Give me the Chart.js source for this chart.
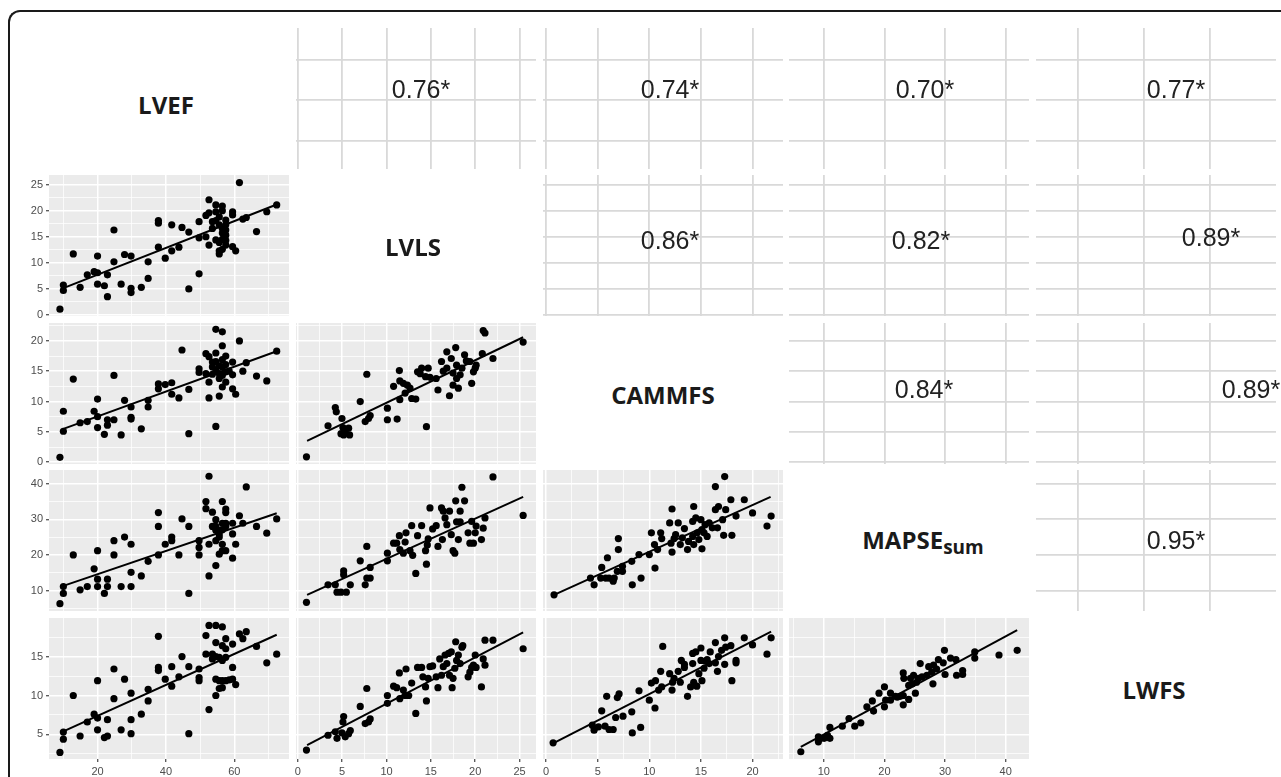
<!DOCTYPE html>
<html><head><meta charset="utf-8">
<script src="https://cdn.jsdelivr.net/npm/chart.js@4.4.1/dist/chart.umd.min.js"></script>
<style>
html,body{margin:0;padding:0;background:#fff;}
body{width:1281px;height:777px;overflow:hidden;position:relative;font-family:'Liberation Sans',Arial,sans-serif;}
.frame{position:absolute;left:8px;top:10px;width:1400px;height:900px;border-left:2px solid #1a1a1a;border-top:2px solid #1a1a1a;border-top-left-radius:12px;box-sizing:border-box;}
canvas{position:absolute;}
.diag{position:absolute;font-family:'Open Sans',sans-serif;font-weight:700;font-size:24px;line-height:24px;color:#1a1a1a;transform:translate(-50%,-50%);white-space:nowrap;}
.diag .sub{font-size:19px;position:relative;top:5px;}
.corr{position:absolute;font-family:'Liberation Sans',Arial,sans-serif;font-size:25px;line-height:25px;color:#222;transform:translate(-50%,-50%);white-space:nowrap;}
</style></head>
<body>
<div class="frame"></div>
<script>
// ---------------- DATA ----------------
const variables = ['LVEF', 'LVLS', 'CAMMFS', 'MAPSE', 'LWFS'];
const varLabels = ['LVEF', 'LVLS', 'CAMMFS', 'MAPSE<span class="sub">sum</span>', 'LWFS'];

// tick labels (major breaks)
const ticksLVEF = [20, 40, 60];
const ticksLVLS = [0, 5, 10, 15, 20, 25];
const ticksCAMMFS = [0, 5, 10, 15, 20];
const ticksMAPSE = [10, 20, 30, 40];
const ticksLWFS = [5, 10, 15];

// axis ranges
const rangeLVEF = [5.8, 76.0];
const rangeLVLS = [-0.2, 26.85];
const rangeCAMMFS = [-0.3, 22.95];
const rangeMAPSE = [4.25, 43.85];
const rangeLWFS = [1.85, 19.95];

// correlations (upper triangle, row-wise)
const corrLabels = ['0.76*', '0.74*', '0.70*', '0.77*', '0.86*', '0.82*', '0.89*', '0.84*', '0.89*', '0.95*'];

// scatter data (lower triangle) [x, y]
const lvefVsLvls = [[9,1.1],[10,5.75],[10,4.7],[12.9,11.7],[14.9,5.3],[17,7.7],[19,8.3],[20,8.1],[20,11.3],[20,5.9],[22,5.6],[22.9,3.5],[22.9,7.7],[24.8,16.3],[24.8,10.2],[26.9,5.9],[27.9,11.6],[29.8,11.3],[29.8,5.1],[29.8,4.3],[32.8,5.3],[34.8,7.0],[34.8,10.2],[37.8,13.0],[37.8,18.1],[37.8,17.6],[39.8,10.9],[41.7,17.3],[41.7,12.3],[43.8,13.0],[44.7,16.8],[46.7,15.9],[46.7,5.0],[49.7,17.9],[49.7,14.8],[49.7,7.9],[51.7,15.0],[51.7,19.1],[52.6,22.1],[52.6,19.6],[52.6,13.4],[53.6,17.9],[53.6,16.6],[54.6,21.1],[54.6,19.8],[54.6,18.1],[54.6,14.4],[55.6,13.9],[55.6,12.3],[55.6,11.7],[55.6,17.3],[55.6,18.8],[56.5,20.9],[56.5,20.0],[56.5,15.7],[56.5,14.5],[56.5,12.6],[56.5,16.6],[57.5,18.2],[57.5,17.3],[57.5,16.3],[57.5,15.3],[57.5,14.3],[57.5,13.4],[59.5,19.8],[59.5,19.2],[59.5,13.1],[60.4,12.3],[61.5,25.4],[62.5,18.4],[63.5,18.7],[66.5,16.0],[69.5,19.8],[72.4,21.1]];
const lvefVsCammfs = [[9,0.8],[10,8.4],[10,5.1],[12.9,13.7],[14.9,6.5],[17,6.7],[19,8.4],[20,7.5],[20,10.4],[20,5.7],[22,4.6],[22.9,6.1],[22.9,7.0],[24.8,14.3],[24.8,7.0],[26.9,4.5],[27.9,10.2],[29.8,9.1],[29.8,7.4],[29.8,7.1],[32.8,5.5],[34.8,10.2],[34.8,9.1],[37.8,12.9],[37.8,12.1],[39.8,12.8],[41.7,13.1],[41.7,11.2],[43.8,10.6],[44.7,18.5],[46.7,12.0],[46.7,4.7],[49.7,15.4],[49.7,14.8],[51.7,17.9],[51.7,14.6],[52.6,13.2],[52.6,10.6],[52.6,17.4],[53.6,15.7],[53.6,16.5],[54.6,21.9],[54.6,18.0],[54.6,15.2],[54.6,5.9],[55.6,10.9],[55.6,14.6],[55.6,13.8],[56.5,21.5],[56.5,19.2],[56.5,16.9],[56.5,15.7],[56.5,12.4],[57.5,17.5],[57.5,14.9],[57.5,13.2],[59.5,16.5],[59.5,14.4],[59.5,12.1],[60.4,11.2],[61.5,20.0],[62.5,15.0],[63.5,16.4],[66.5,14.2],[69.5,13.4],[72.4,18.3],[55.6,15.9],[56.5,14.3],[57.5,16.1],[58.5,15.0],[54.6,16.6],[53.6,14.5]];
const lvefVsMapse = [[9,6.3],[10,9.2],[10,11.1],[12.9,20.0],[14.9,10.2],[17,11.1],[19,16.1],[20,21.2],[20,13.2],[20,11.1],[22,9.2],[22.9,13.2],[22.9,11.1],[24.8,24.0],[24.8,20.0],[26.9,11.1],[27.9,25.0],[29.8,23.0],[29.8,15.1],[29.8,11.1],[32.8,14.1],[34.8,18.2],[37.8,31.9],[37.8,28.0],[37.8,20.0],[39.8,23.0],[41.7,25.0],[41.7,24.0],[43.8,20.0],[44.7,30.1],[46.7,28.0],[46.7,9.2],[49.7,24.0],[49.7,22.1],[49.7,20.0],[51.7,35.0],[51.7,33.0],[52.6,42.1],[52.6,23.0],[52.6,14.1],[53.6,32.0],[53.6,28.0],[54.6,29.9],[54.6,28.0],[54.6,26.9],[54.6,24.0],[54.6,17.0],[55.6,25.9],[55.6,25.0],[55.6,20.2],[55.6,26.9],[56.5,35.0],[56.5,28.9],[56.5,27.1],[56.5,23.0],[56.5,21.2],[57.5,32.9],[57.5,31.9],[57.5,28.9],[57.5,28.0],[57.5,21.2],[59.5,28.9],[59.5,25.9],[59.5,19.1],[60.4,23.0],[61.5,31.0],[62.5,28.9],[63.5,39.1],[66.5,28.0],[69.5,26.1],[72.4,30.1]];
const lvefVsLwfs = [[9,2.7],[10,5.3],[10,4.4],[12.9,10.0],[14.9,4.8],[17,6.6],[19,7.6],[20,7.1],[20,11.9],[20,5.6],[22,4.6],[22.9,6.9],[22.9,4.8],[24.8,13.4],[24.8,9.6],[26.9,5.6],[27.9,12.1],[29.8,10.3],[29.8,6.9],[29.8,5.1],[32.8,7.6],[34.8,10.8],[34.8,9.3],[37.8,17.6],[37.8,13.6],[37.8,13.2],[39.8,12.1],[41.7,13.7],[41.7,11.2],[43.8,12.4],[44.7,15.0],[46.7,13.7],[46.7,5.1],[49.7,13.4],[49.7,12.3],[49.7,11.9],[51.7,17.7],[51.7,15.3],[52.6,19.0],[52.6,8.2],[53.6,15.3],[53.6,14.7],[54.6,19.0],[54.6,16.8],[54.6,15.0],[54.6,12.1],[54.6,10.0],[55.6,14.9],[55.6,11.9],[55.6,10.9],[56.5,18.8],[56.5,16.4],[56.5,14.5],[56.5,11.9],[56.5,11.0],[57.5,17.3],[57.5,16.0],[57.5,14.9],[57.5,11.9],[58.5,12.0],[59.5,16.6],[59.5,13.6],[59.5,12.1],[60.4,11.4],[61.5,17.9],[62.5,17.3],[63.5,18.2],[66.5,16.3],[69.5,14.2],[72.4,15.3]];
const lvlsVsCammfs = [[0.98,0.89],[3.41,6.0],[4.23,9.0],[4.34,8.3],[4.98,7.2],[5.09,5.7],[4.87,4.7],[5.35,5.0],[5.73,5.6],[5.84,4.5],[5.17,4.5],[7.04,10.0],[7.78,14.5],[7.6,6.7],[8.16,7.7],[7.97,7.2],[10.1,8.9],[10.1,7.0],[11.2,7.1],[10.8,12.5],[11.45,15.1],[11.5,13.4],[11.5,10.3],[11.9,13.0],[12.1,11.4],[12.35,12.7],[12.65,12.2],[12.84,10.5],[13.3,10.4],[13.5,14.9],[13.96,15.5],[14.4,14.1],[14.5,5.85],[14.7,15.5],[14.9,14.0],[15.6,13.8],[15.8,11.9],[16.2,16.6],[16.4,15.0],[16.8,18.2],[17.1,10.95],[17.3,17.1],[17.5,12.7],[17.5,14.7],[17.8,18.9],[17.9,16.0],[18.1,12.2],[18.3,14.4],[18.5,15.5],[18.8,17.7],[19.0,16.7],[19.4,16.6],[19.6,13.0],[19.8,14.9],[20.1,16.0],[20.8,17.9],[20.9,21.7],[21.1,21.3],[22.0,17.1],[25.4,19.8],[13.8,14.6],[16.8,15.5],[17.9,13.8],[20.0,15.5]];
const lvlsVsMapse = [[0.98,6.7],[3.41,11.6],[4.23,11.6],[4.42,9.55],[4.87,9.55],[5.17,15.5],[5.17,14.4],[5.47,9.55],[5.92,11.6],[7.04,18.35],[7.6,11.6],[7.78,22.4],[7.78,13.5],[8.16,16.5],[8.16,13.5],[10.1,20.5],[10.1,18.35],[10.8,23.3],[11.15,23.3],[11.45,25.4],[11.5,21.5],[11.9,20.5],[12.2,26.2],[12.1,23.6],[12.65,21.2],[12.84,28.2],[12.95,19.9],[13.3,14.8],[13.5,25.4],[13.96,28.2],[14.4,21.2],[14.5,17.4],[14.6,22.8],[14.7,24.5],[14.9,33.2],[15.2,27.3],[15.6,28.2],[15.8,22.4],[16.2,33.2],[16.4,32.3],[16.6,30.4],[16.8,28.5],[16.3,24.3],[17.1,32.3],[17.3,25.7],[17.5,21.2],[17.7,20.5],[17.8,35.2],[17.9,29.3],[18.1,24.3],[18.3,32.3],[18.3,29.3],[18.5,39.0],[18.8,35.2],[19.2,26.2],[19.4,23.3],[19.6,29.4],[19.8,23.3],[20.0,26.2],[20.1,28.1],[20.7,24.3],[20.9,27.5],[21.1,30.4],[22.0,41.9],[25.4,31.1]];
const lvlsVsLwfs = [[0.98,3.0],[3.41,4.9],[4.23,5.35],[4.42,4.5],[4.98,5.2],[5.17,7.3],[5.09,6.6],[5.35,4.7],[5.73,5.1],[5.92,5.5],[7.04,8.6],[7.78,10.9],[7.6,6.4],[7.97,6.6],[8.16,7.0],[10.1,10.0],[10.1,9.0],[10.8,11.2],[11.15,11.0],[11.45,12.9],[11.5,9.6],[11.9,10.7],[12.1,10.0],[12.2,13.4],[12.5,10.0],[12.84,11.6],[13.3,7.7],[13.5,13.6],[13.96,13.6],[14.1,12.4],[14.4,11.1],[14.5,9.3],[14.7,12.2],[14.9,13.7],[15.2,13.8],[15.6,12.4],[15.8,11.0],[16.0,14.7],[16.2,12.6],[16.4,13.7],[16.6,15.2],[16.8,14.1],[17.0,15.4],[17.1,12.6],[17.3,15.6],[17.4,11.0],[17.5,12.2],[17.7,13.5],[17.8,16.9],[17.9,14.5],[18.1,15.2],[18.3,14.1],[18.5,16.2],[18.6,16.4],[19.2,12.4],[19.4,13.0],[19.6,13.6],[19.8,13.9],[20.0,15.2],[20.1,13.6],[20.7,11.1],[20.9,14.7],[21.1,13.9],[21.1,17.1],[22.0,17.1],[25.4,16.0]];
const cammfsVsMapse = [[0.77,8.8],[4.3,13.5],[4.65,11.6],[5.39,16.5],[5.29,13.5],[5.78,13.5],[5.94,19.2],[6.1,13.5],[6.5,12.6],[6.6,13.5],[6.9,15.4],[7.0,21.5],[7.0,24.6],[7.4,15.4],[7.4,16.8],[8.3,18.2],[8.35,11.6],[9.0,20.1],[9.2,13.5],[10.0,20.1],[10.2,26.2],[10.5,22.9],[10.55,16.3],[10.8,21.5],[11.1,26.2],[11.2,24.6],[11.97,29.0],[12.1,23.3],[12.2,20.8],[12.2,32.9],[12.4,24.6],[12.55,25.7],[12.8,29.0],[13.0,22.9],[13.2,24.8],[13.4,27.4],[13.7,21.5],[13.8,23.8],[14.2,25.2],[14.2,29.4],[14.3,33.6],[14.3,22.9],[14.5,30.4],[14.65,26.2],[14.8,24.3],[15.0,29.9],[15.1,21.7],[15.1,27.1],[15.3,26.2],[15.4,28.5],[15.6,25.2],[15.8,29.0],[16.1,27.6],[16.4,39.2],[16.4,32.7],[16.6,27.6],[16.7,33.6],[17.1,29.9],[17.2,25.5],[17.3,42.0],[17.4,32.7],[17.9,35.5],[18.0,25.5],[18.4,30.9],[19.2,35.5],[20.0,31.8],[21.4,28.1],[21.8,30.9]];
const cammfsVsLwfs = [[0.68,3.93],[4.48,6.19],[4.65,5.55],[5.07,5.98],[5.39,8.03],[5.71,6.06],[5.87,9.9],[6.1,5.64],[6.5,5.64],[6.74,7.18],[6.9,9.73],[7.07,10.2],[7.45,7.35],[8.3,7.9],[8.35,5.2],[9.0,10.6],[9.16,5.9],[10.0,9.4],[10.2,11.6],[10.55,8.4],[10.6,11.9],[10.9,10.7],[11.1,13.1],[11.2,11.1],[11.3,16.3],[11.97,12.8],[12.2,10.7],[12.25,11.7],[12.4,12.2],[12.8,13.1],[13.0,11.7],[13.1,14.5],[13.4,14.0],[13.4,13.6],[13.7,9.9],[14.0,11.1],[14.2,15.4],[14.2,14.1],[14.3,11.7],[14.5,15.6],[14.6,11.2],[14.8,12.8],[15.0,16.1],[15.0,14.5],[15.1,11.9],[15.3,13.5],[15.4,14.4],[15.6,14.6],[15.8,14.1],[15.9,15.6],[16.4,16.8],[16.4,14.2],[16.6,13.1],[16.7,15.0],[17.0,15.8],[17.3,14.0],[17.3,17.4],[17.4,16.2],[17.9,16.4],[18.0,11.9],[18.4,14.5],[18.4,14.2],[19.2,17.4],[20.0,16.5],[21.4,15.3],[21.8,17.4]];
const mapseVsLwfs = [[6.2,2.78],[9.1,4.7],[9.1,4.05],[9.5,4.5],[10.05,4.5],[10.6,4.9],[11.0,4.5],[11.0,5.9],[13.05,6.07],[14.15,7.05],[15.1,6.07],[16.1,6.5],[17.1,8.55],[18.0,9.3],[18.2,8.0],[19.1,10.3],[20.0,11.1],[20.0,8.55],[20.2,9.4],[21.0,9.4],[21.0,10.3],[21.8,9.9],[22.1,9.8],[22.6,9.9],[23.1,8.8],[23.1,10.0],[23.1,12.9],[23.2,12.2],[24.0,9.5],[24.0,11.3],[24.3,12.2],[24.6,11.5],[24.8,12.6],[25.1,10.3],[25.3,11.7],[25.6,12.2],[25.9,14.1],[26.2,12.4],[27.0,12.6],[27.3,13.7],[27.8,13.0],[28.0,11.5],[28.1,13.9],[28.6,13.4],[28.9,14.6],[29.7,14.2],[29.9,15.8],[30.0,12.7],[30.9,14.8],[31.8,14.6],[31.9,12.6],[32.9,13.2],[32.9,12.7],[34.9,15.6],[34.9,14.8],[38.9,15.2],[41.9,15.8]];

// fitted regression lines [start, end]
const fitLvefLvls = [[9.8,5.1],[72.4,21.2]];
const fitLvefCammfs = [[10,5.5],[72.4,18.3]];
const fitLvefMapse = [[10,11.3],[72.4,31.7]];
const fitLvefLwfs = [[10,5.4],[72.4,17.8]];
const fitLvlsCammfs = [[1.05,3.5],[25.4,20.6]];
const fitLvlsMapse = [[1.05,8.8],[25.4,36.3]];
const fitLvlsLwfs = [[1.05,3.63],[25.4,18.1]];
const fitCammfsMapse = [[0.77,8.8],[21.75,36.3]];
const fitCammfsLwfs = [[0.77,3.93],[21.8,18.2]];
const fitMapseLwfs = [[6.2,3.42],[41.9,18.4]];

// ---------------- LAYOUT ----------------
const colLeft = [49, 296, 543, 789, 1036];
const rowTop = [28, 175, 323, 470, 618];
const PW = 240, PH = 141, PAD = 8, YAXIS_W = 41, XAXIS_H = 22;
const diagPos = [[166,105],[413,247],[663,395],[923,541],[1154,690]];
const corrPos = [[421,89],[670,89],[925,89],[1176,89],[670,240],[921,240],[1211,237],[924,389],[1251,389],[1176,540]];

const tickMap = {LVEF: ticksLVEF, LVLS: ticksLVLS, CAMMFS: ticksCAMMFS, MAPSE: ticksMAPSE, LWFS: ticksLWFS};
const rangeMap = {LVEF: rangeLVEF, LVLS: rangeLVLS, CAMMFS: rangeCAMMFS, MAPSE: rangeMAPSE, LWFS: rangeLWFS};
const lowerData = {
  '1_0': [lvefVsLvls, fitLvefLvls], '2_0': [lvefVsCammfs, fitLvefCammfs], '3_0': [lvefVsMapse, fitLvefMapse], '4_0': [lvefVsLwfs, fitLvefLwfs],
  '2_1': [lvlsVsCammfs, fitLvlsCammfs], '3_1': [lvlsVsMapse, fitLvlsMapse], '4_1': [lvlsVsLwfs, fitLvlsLwfs],
  '3_2': [cammfsVsMapse, fitCammfsMapse], '4_2': [cammfsVsLwfs, fitCammfsLwfs],
  '4_3': [mapseVsLwfs, fitMapseLwfs]
};

function isMajor(v, val) { return tickMap[v].some(m => Math.abs(m - val) < 1e-6); }
function gridValues(v, withMinor) {
  const m = tickMap[v], s = m[1] - m[0], r = rangeMap[v];
  if (!withMinor) return m.filter(t => t >= r[0] && t <= r[1]);
  const out = [];
  for (let t = m[0] - s; t <= m[m.length - 1] + s + 1e-9; t += s / 2) {
    if (t >= r[0] - 1e-9 && t <= r[1] + 1e-9) out.push(+t.toFixed(4));
  }
  return out;
}

const bgPlugin = {
  id: 'panelBg',
  beforeDraw(chart, args, opts) {
    const a = chart.chartArea, c = chart.ctx;
    c.save(); c.fillStyle = opts.color || '#ebebeb';
    c.fillRect(a.left, a.top, a.right - a.left, a.bottom - a.top);
    c.restore();
  }
};

function axisCfg(v, axis, show, upper) {
  return {
    type: 'linear', position: axis === 'x' ? 'bottom' : 'left',
    min: rangeMap[v][0], max: rangeMap[v][1],
    afterBuildTicks: s => { s.ticks = gridValues(v, !upper).map(value => ({value})); },
    afterFit: s => {
      if (axis === 'x') s.height = show ? XAXIS_H : 0; else s.width = show ? YAXIS_W : 0;
      s.paddingLeft = 0; s.paddingRight = 0; s.paddingTop = 0; s.paddingBottom = 0;
    },
    border: {display: false},
    grid: {
      color: upper ? '#d9d9d9' : '#ffffff',
      lineWidth: c => (c.tick && isMajor(v, c.tick.value)) ? (upper ? 1.8 : 1.5) : 0.75,
      drawTicks: show, tickLength: 3, tickWidth: 1.1,
      tickColor: c => (show && c.tick && isMajor(v, c.tick.value)) ? '#333333' : 'rgba(0,0,0,0)'
    },
    ticks: {
      display: show, autoSkip: false, maxRotation: 0, minRotation: 0, padding: 3,
      color: '#4d4d4d', font: {family: 'Liberation Sans', size: 11},
      callback: val => isMajor(v, val) ? String(val) : ''
    }
  };
}

function makePanel(row, col, kind) {
  const xv = variables[col], yv = variables[row];
  const showY = kind === 'lower' && col === 0;
  const showX = kind === 'lower' && row === 4;
  const cv = document.createElement('canvas');
  const w = PW + (showY ? YAXIS_W : 0) + 2 * PAD;
  const h = PH + (showX ? XAXIS_H : 0) + 2 * PAD;
  cv.width = w; cv.height = h;
  cv.style.left = (colLeft[col] - (showY ? YAXIS_W : 0) - PAD) + 'px';
  cv.style.top = (rowTop[row] - PAD) + 'px';
  cv.style.width = w + 'px'; cv.style.height = h + 'px';
  document.body.appendChild(cv);
  const datasets = [];
  if (kind === 'lower') {
    const [pts, fit] = lowerData[row + '_' + col];
    datasets.push({data: fit.map(([x, y]) => ({x, y})), showLine: true, borderColor: '#000', borderWidth: 2,
      pointRadius: 0, fill: false, clip: false});
    datasets.push({data: pts.map(([x, y]) => ({x, y})), backgroundColor: '#000', borderColor: '#000',
      borderWidth: 0, pointRadius: 3.6, pointHoverRadius: 3.6, clip: false});
  }
  new Chart(cv, {
    type: 'scatter',
    data: {datasets},
    options: {
      responsive: false, animation: false, devicePixelRatio: 1, events: [],
      layout: {padding: PAD},
      plugins: {legend: {display: false}, tooltip: {enabled: false}, panelBg: {color: kind === 'lower' ? '#ebebeb' : '#ffffff'}},
      scales: {x: axisCfg(xv, 'x', showX, kind === 'upper'), y: axisCfg(yv, 'y', showY, kind === 'upper')}
    },
    plugins: [bgPlugin]
  });
}

let ci = 0;
for (let r = 0; r < 5; r++) {
  for (let c = 0; c < 5; c++) {
    if (r > c) makePanel(r, c, 'lower');
    else if (r < c) {
      makePanel(r, c, 'upper');
      const d = document.createElement('div');
      d.className = 'corr'; d.textContent = corrLabels[ci];
      d.style.left = corrPos[ci][0] + 'px'; d.style.top = corrPos[ci][1] + 'px';
      document.body.appendChild(d); ci++;
    } else {
      const d = document.createElement('div');
      d.className = 'diag'; d.innerHTML = varLabels[r];
      d.style.left = diagPos[r][0] + 'px'; d.style.top = diagPos[r][1] + 'px';
      document.body.appendChild(d);
    }
  }
}
</script>
</body></html>
